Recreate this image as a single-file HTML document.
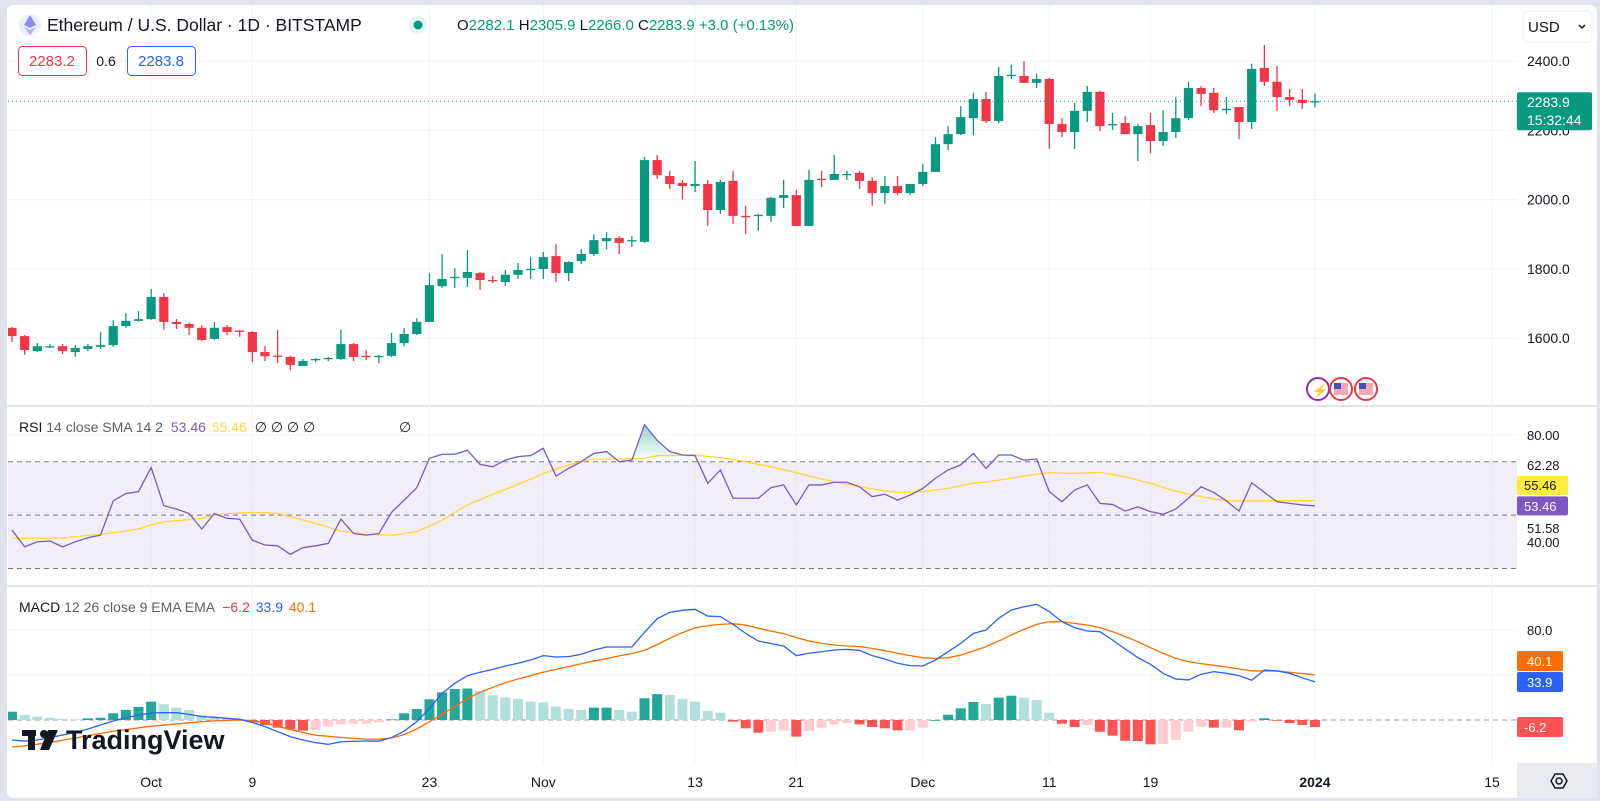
<!DOCTYPE html>
<html><head><meta charset="utf-8"><style>
html,body{margin:0;padding:0;background:#e0e3eb;}
body{width:1600px;height:801px;overflow:hidden;position:relative;font-family:"Liberation Sans",sans-serif;}
#card{position:absolute;left:7px;top:5px;width:1590px;height:793px;background:#fff;border-radius:6px;overflow:hidden;}
svg{position:absolute;left:0;top:0;}
text{font-family:"Liberation Sans",sans-serif;}
</style></head><body>
<div id="card"></div>
<svg id="chart" width="1600" height="801" viewBox="0 0 1600 801"></svg>
<script>
// ---------- DATA ----------
const opens=[1630,1606,1563,1575,1577,1560,1569,1575,1580,1635,1650,1655,1719,1647,1641,1630,1598,1632,1622,1618,1560,1550,1546,1520,1537,1540,1540,1583,1549,1546,1549,1586,1612,1647,1750,1774,1774,1788,1768,1762,1783,1797,1800,1837,1788,1823,1843,1880,1889,1880,1878,2114,2068,2048,2039,2045,1970,2054,1953,1953,1953,2005,2013,1924,2060,2057,2071,2077,2054,2019,2039,2019,2045,2080,2160,2189,2235,2290,2227,2357,2357,2337,2348,2218,2195,2256,2311,2215,2221,2189,2215,2169,2195,2235,2322,2308,2258,2267,2224,2380,2340,2296,2288,2282.1];
const highs=[1632,1609,1586,1583,1583,1580,1583,1618,1652,1673,1678,1742,1730,1655,1645,1638,1647,1638,1624,1620,1577,1624,1549,1540,1543,1546,1624,1586,1566,1552,1615,1629,1658,1788,1843,1802,1854,1791,1780,1797,1817,1834,1849,1872,1822,1857,1900,1906,1895,1895,2123,2129,2083,2057,2111,2057,2057,2083,1982,1959,2008,2057,2028,2086,2083,2129,2083,2083,2065,2068,2068,2045,2103,2180,2212,2270,2308,2311,2383,2389,2400,2363,2351,2235,2279,2328,2314,2250,2241,2218,2250,2258,2296,2340,2328,2322,2296,2267,2392,2446,2386,2319,2319,2305.9];
const lows=[1589,1552,1560,1572,1554,1546,1563,1569,1575,1630,1648,1653,1624,1627,1609,1592,1595,1609,1604,1531,1534,1528,1508,1520,1531,1534,1537,1534,1537,1528,1546,1577,1609,1647,1745,1745,1748,1739,1759,1751,1771,1771,1771,1762,1765,1814,1837,1857,1843,1863,1875,2060,2031,2000,2022,1924,1959,1930,1901,1910,1936,1976,1924,1924,2036,2057,2057,2031,1982,1988,2013,2013,2039,2080,2143,2186,2186,2221,2221,2348,2337,2322,2146,2180,2146,2224,2198,2201,2189,2111,2134,2155,2178,2230,2270,2250,2247,2174,2204,2328,2256,2270,2262,2266];
const closes=[1606,1566,1577,1577,1563,1572,1577,1580,1635,1650,1655,1719,1647,1641,1630,1595,1630,1618,1620,1560,1548,1548,1523,1534,1540,1543,1583,1546,1546,1549,1586,1612,1647,1753,1771,1777,1791,1768,1765,1783,1797,1800,1834,1788,1820,1843,1883,1889,1875,1883,2114,2071,2045,2039,2045,1970,2051,1953,1950,1956,2005,2013,1924,2057,2057,2074,2074,2054,2019,2039,2019,2045,2080,2160,2189,2238,2290,2227,2357,2360,2337,2348,2218,2195,2256,2311,2212,2218,2189,2212,2169,2195,2235,2322,2305,2258,2262,2224,2377,2340,2296,2288,2279,2283.9];
const rsiValues=[44.4,38.1,40,40.3,38.1,40,41.5,42.5,55.3,58.1,58.8,67.8,53.5,52.3,50.6,44.8,50.6,48.8,48.5,40.6,38.8,38.5,35.3,37.8,38.5,39.4,48.5,43.1,42.5,43.1,51,55.6,60.3,71.3,72.8,72.8,74.3,69,68.1,70.6,71.9,72.3,75,64.6,67.5,70,73.1,73.8,70,70.6,83.8,78,73.8,72.5,72.3,61.9,66.9,56.3,56.3,56.3,60.3,61.3,53.8,61.3,61.3,62.3,62.3,60.6,56.9,57.8,55.6,57.5,60,63.8,66.9,68.8,73.1,67.5,72.5,72.5,70.6,71,58.8,55,59.4,61.3,54.4,54,51.5,53.1,51.3,50.3,52.3,56.3,60.6,58.5,55.3,51.5,62.1,58.5,55,54.4,53.8,53.46];
const rsiSma=[41.3,41.3,41.4,41.4,41.5,41.9,42.4,42.8,43.4,44,44.8,46.3,47.5,47.9,48.3,48.8,49.9,50.6,50.8,51,50.9,50.6,49.4,48.1,46.9,45.5,44,43.4,42.8,42.6,42.5,43.1,43.8,45.9,48.1,51,53.8,55.8,57.8,59.6,61.5,63.5,65.6,67.2,68.8,70,71,71,71,71.1,71.3,72.3,72.3,72.4,72.5,72,71.5,70.8,70,69,68.1,67,65.9,64.7,63.5,62.5,61.5,60.6,59.8,59.1,58.5,58.6,58.8,59.4,60,61,61.9,62.5,63.1,63.8,64.6,65.3,65.9,65.7,65.6,65.8,66,65.2,64.4,63.1,61.9,60.4,59,57.9,56.9,56.1,55.4,55.3,55.3,55.3,55.4,55.4,55.4,55.46];
const macdLine=[-17.8,-18.7,-17.8,-15.7,-13.3,-11,-8,-4.4,-0.9,2,4.4,6.2,6.5,6.5,5,3,2.4,1.5,0.6,-2.1,-5.9,-10.4,-14.8,-17.8,-20.1,-21.6,-19.3,-19,-18.7,-18.7,-15.7,-9.8,-1.5,10.4,23.7,32.6,39.4,42.4,45,48,50.4,53.3,57.2,56,56.3,58.4,62.2,64.9,64.9,64.9,78,90,95.7,97.5,98.4,92.4,91.9,85,77,70.2,67.9,65.8,57.2,59.3,60.7,62.2,62.8,61.9,57.2,54.2,50.4,48.3,48,53.3,60.7,68.1,77,80,90.4,97.8,100.7,102.8,96.3,87.4,82.1,79.1,78.5,71.1,63.1,55.4,49.5,41.5,36.4,35.6,40.6,43,41.5,39.4,35.3,44.4,43.6,41.5,37.5,33.9];
const signalLine=[-24,-23,-21.5,-20,-18,-16,-14,-12,-10,-8.5,-7,-5.5,-4.5,-3.5,-2.5,-1.5,-0.8,-0.3,0,-0.5,-2.5,-5.5,-8.5,-11,-13.5,-14.5,-15.5,-16.3,-17,-17,-16,-13,-8,-1.5,5,12,19,24.6,29,33,36.5,39.5,42.5,45,47.5,50,52.5,54.5,57,59,62,67,72.6,77.6,82,83.9,85,85.6,84.4,81.5,79.1,76.7,73.2,70.2,68.1,66.7,65.8,65.2,63.7,61.6,59.3,57.2,55.4,54.8,55.4,57.8,61.3,65.2,70.2,75.6,80.6,85,87.4,87.4,85.9,84.4,82.1,78.5,74.1,69.6,64.3,59.3,54.8,51.9,50.1,48.6,47.1,45.3,43.6,43.6,43.6,42.4,41.3,40.1];
const histValues=[7.4,4.4,3,2,1,0.6,1.5,2,6,9,11.6,16.3,14,11,9,4.4,3,2,0.6,-2,-4.4,-6.8,-8.3,-9.5,-8.9,-5.9,-3.9,-3.3,-3.3,-2.1,0.6,6,9.8,18.4,24.6,27.6,28,25.8,22,20,18.7,16.3,15.7,11.9,9.8,9,11,11,9,7.4,19.3,23,22.2,18.7,16.3,8,6.5,-1.5,-7.4,-11.3,-10.4,-9.5,-14.8,-9.8,-6.8,-3.9,-2.7,-3.9,-6.2,-7.4,-9.2,-9.2,-6.8,0,4.7,10.4,16,14.2,19.9,21.6,19.9,17.8,6.5,-3.3,-6.2,-4.4,-10.4,-13.9,-18.4,-18.7,-21.6,-21.3,-17.8,-10.4,-5.9,-6.8,-6.8,-9.2,-1.5,1.5,-0.6,-2.7,-4.4,-6.2];
const priceTicks=[2400,2200,2000,1800,1600];
const rsiTicks=[80,60,40];
const macdTicks=[80,40];
const timeLabels=['Oct','9','23','Nov','13','21','Dec','11','19','2024','15'];
const timeLabelIdx=[11,19,33,42,54,62,72,82,90,103,117];
const lastTime='15:32:44';

// ---------- SCALES ----------
const X0=12, STEP=12.65, PLOT_L=8, PLOT_R=1517;
function xS(i){return X0+i*STEP;}
function yP(p){return 61+(2400-p)/2.886;}
function yR(v){return 461.7+(70-v)*2.67;}
function yM(v){return 720-v*1.125;}

const NS='http://www.w3.org/2000/svg';
const svg=document.getElementById('chart');
function mk(tag,attrs,parent){const e=document.createElementNS(NS,tag);for(const k in attrs)e.setAttribute(k,attrs[k]);(parent||svg).appendChild(e);return e;}
function txt(s,attrs,parent){const e=mk('text',attrs,parent);e.textContent=s;return e;}

const defs=mk('defs',{});
const cp=mk('clipPath',{id:'cpPrice'},defs);mk('rect',{x:PLOT_L,y:5,width:PLOT_R-PLOT_L,height:400},cp);
const cr=mk('clipPath',{id:'cpRsi'},defs);mk('rect',{x:PLOT_L,y:407,width:PLOT_R-PLOT_L,height:177},cr);
const cm=mk('clipPath',{id:'cpMacd'},defs);mk('rect',{x:PLOT_L,y:587,width:PLOT_R-PLOT_L,height:175},cm);
const cob=mk('clipPath',{id:'cpOb'},defs);mk('rect',{x:PLOT_L,y:407,width:PLOT_R-PLOT_L,height:yR(70)-407},cob);
const gr=mk('linearGradient',{id:'obGrad',x1:0,y1:yR(85),x2:0,y2:yR(70),gradientUnits:'userSpaceOnUse'},defs);
mk('stop',{offset:'0','stop-color':'#089981','stop-opacity':'0.45'},gr);
mk('stop',{offset:'1','stop-color':'#089981','stop-opacity':'0'},gr);

let el;
el=mk('rect',{x:7,y:405,width:1590,height:2,fill:'#e0e3eb'});


el=mk('rect',{x:7,y:585,width:1590,height:2,fill:'#e0e3eb'});



const gridG=mk('g',{});


timeLabelIdx.forEach((d,k)=>{
  const x=xS(d);
  el=mk('line',{x1:x,x2:x,y1:5,y2:763,stroke:'#f0f3fa','stroke-width':1},gridG);
  
  
});
priceTicks.forEach(p=>{
  const y=yP(p);
  el=mk('line',{x1:PLOT_L,x2:PLOT_R,y1:y,y2:y,stroke:'#f0f3fa'});
  
  
  el=txt(p.toFixed(1),{x:1527,y:y+5,'font-size':14,fill:'#131722'});
  
  
});

const cg=mk('g',{'clip-path':'url(#cpPrice)'});


for(let i=0;i<closes.length;i++){
  const up=closes[i]>=opens[i];
  const col=up?'#089981':'#f23645';
  const x=xS(i);
  const g=mk('g',{},cg);
  
  
  mk('line',{x1:x,x2:x,y1:yP(highs[i]),y2:yP(lows[i]),stroke:col,'stroke-width':1.3},g);
  const yt=yP(Math.max(opens[i],closes[i])), yb=yP(Math.min(opens[i],closes[i]));
  mk('rect',{x:x-4.6,y:yt,width:9.2,height:Math.max(1.3,yb-yt),fill:col},g);
}
const lastY=yP(closes[closes.length-1]);
el=mk('line',{x1:PLOT_L,x2:PLOT_R,y1:lastY,y2:lastY,stroke:'#089981','stroke-width':1,'stroke-dasharray':'1,3'});


const lpg=mk('g',{});


mk('rect',{x:1517,y:lastY-9,width:75,height:38,rx:2,fill:'#089981'},lpg);
txt(closes[closes.length-1].toFixed(1),{x:1527,y:lastY+6,'font-size':14,fill:'#fff'},lpg);
txt(lastTime,{x:1527,y:lastY+24,'font-size':14,fill:'#fff'},lpg);

const evg=mk('g',{});


mk('circle',{cx:1318,cy:389,r:11,fill:'#fff',stroke:'#9c27b0','stroke-width':2},evg);
txt('⚡',{x:1312,y:395,'font-size':13,fill:'#e91e63'},evg);
[1341,1366].forEach(cx=>{
  mk('circle',{cx:cx,cy:389,r:11,fill:'#fff',stroke:'#f23645','stroke-width':2},evg);
  mk('rect',{x:cx-7,y:383,width:14,height:12,fill:'#f7a8b0'},evg);
  mk('rect',{x:cx-7,y:383,width:7,height:6,fill:'#3f51b5'},evg);
});

// ---------- RSI ----------
const rg=mk('g',{'clip-path':'url(#cpRsi)'});


el=mk('rect',{x:PLOT_L,y:yR(70),width:PLOT_R-PLOT_L,height:yR(30)-yR(70),fill:'rgba(126,87,194,0.1)'},rg);


rsiTicks.forEach(v=>{mk('line',{x1:PLOT_L,x2:PLOT_R,y1:yR(v),y2:yR(v),stroke:'#f0f3fa'},rg);});
[70,50,30].forEach(v=>{
  el=mk('line',{x1:PLOT_L,x2:PLOT_R,y1:yR(v),y2:yR(v),stroke:'#787b86','stroke-width':1,'stroke-dasharray':'5,4'},rg);
  
  
});
let rp=rsiValues.map((v,i)=>xS(i)+','+yR(v)).join(' ');
el=mk('polygon',{points:xS(0)+','+yR(70)+' '+rp+' '+xS(rsiValues.length-1)+','+yR(70),fill:'url(#obGrad)','clip-path':'url(#cpOb)'},rg);


el=mk('polyline',{points:rsiSma.map((v,i)=>xS(i)+','+yR(v)).join(' '),fill:'none',stroke:'#fdd835','stroke-width':1.3},rg);


el=mk('polyline',{points:rp,fill:'none',stroke:'#7e57c2','stroke-width':1.3},rg);


el=txt('80.00',{x:1527,y:yR(80)+5,'font-size':13,fill:'#131722'});


el=txt('62.28',{x:1527,y:470,'font-size':13,fill:'#131722'});


el=txt('51.58',{x:1527,y:533,'font-size':13,fill:'#131722'});


el=txt('40.00',{x:1527,y:yR(40)+5,'font-size':13,fill:'#131722'});


const smaLast=rsiSma[rsiSma.length-1], rsiLast=rsiValues[rsiValues.length-1];
let bg=mk('g',{});


mk('rect',{x:1517,y:476,width:51,height:19,rx:2,fill:'#ffeb3b'},bg);
txt(smaLast.toFixed(2),{x:1524,y:490,'font-size':13,fill:'#131722'},bg);
bg=mk('g',{});


mk('rect',{x:1517,y:yR(rsiLast)-9.5,width:51,height:19,rx:2,fill:'#7e57c2'},bg);
txt(rsiLast.toFixed(2),{x:1524,y:yR(rsiLast)+5,'font-size':13,fill:'#fff'},bg);

// ---------- MACD ----------
const mg=mk('g',{'clip-path':'url(#cpMacd)'});


macdTicks.forEach(v=>{mk('line',{x1:PLOT_L,x2:PLOT_R,y1:yM(v),y2:yM(v),stroke:'#f0f3fa'},mg);});
el=mk('line',{x1:PLOT_L,x2:PLOT_R,y1:yM(0),y2:yM(0),stroke:'#9598a1','stroke-dasharray':'5,4'},mg);


for(let i=0;i<histValues.length;i++){
  const v=histValues[i], pv=i>0?histValues[i-1]:v;
  let col;
  if(v>=0) col=(v>=pv)?'#26a69a':'#b2dfdb'; else col=(v<pv)?'#ff5252':'#ffcdd2';
  const y0=yM(0), y1=yM(v);
  el=mk('rect',{x:xS(i)-5,y:Math.min(y0,y1),width:10,height:Math.max(0.8,Math.abs(y1-y0)),fill:col},mg);
  
  
}
el=mk('polyline',{points:signalLine.map((v,i)=>xS(i)+','+yM(v)).join(' '),fill:'none',stroke:'#ff6d00','stroke-width':1.3},mg);


el=mk('polyline',{points:macdLine.map((v,i)=>xS(i)+','+yM(v)).join(' '),fill:'none',stroke:'#2962ff','stroke-width':1.3},mg);


el=txt('80.0',{x:1527,y:yM(80)+5,'font-size':13,fill:'#131722'});


const sLast=signalLine[signalLine.length-1], mLast=macdLine[macdLine.length-1], hLast=histValues[histValues.length-1];
bg=mk('g',{});


mk('rect',{x:1517,y:651,width:46,height:20,rx:2,fill:'#ff6d00'},bg);
txt(sLast.toFixed(1),{x:1527,y:666,'font-size':13,fill:'#fff'},bg);
bg=mk('g',{});


mk('rect',{x:1517,y:672,width:46,height:20,rx:2,fill:'#2962ff'},bg);
txt(mLast.toFixed(1),{x:1527,y:687,'font-size':13,fill:'#fff'},bg);
bg=mk('g',{});


mk('rect',{x:1517,y:yM(hLast)-10,width:46,height:20,rx:2,fill:'#ff5252'},bg);
txt(hLast.toFixed(1),{x:1524,y:yM(hLast)+5,'font-size':13,fill:'#fff'},bg);

// ---------- TIME AXIS ----------
timeLabels.forEach((s,k)=>{
  el=txt(s,{x:xS(timeLabelIdx[k]),y:787,'font-size':14,fill:'#131722','text-anchor':'middle','font-weight':(s==='2024'?'bold':'normal')});
  
  
});
</script>

<svg width="1600" height="801" style="pointer-events:none">
  <g>
    <circle cx="30" cy="25" r="11" fill="#eceffd"/>
    <polygon points="30,15 36,25 30,28 24,25" fill="#8c8cf0"/>
    <polygon points="30,30 36,27 30,35 24,27" fill="#b0b3f5"/>
    <text x="47" y="31" font-size="17.5" fill="#131722">Ethereum / U.S. Dollar · 1D · BITSTAMP</text>
    <circle cx="418" cy="25" r="9" fill="#e6f5f2"/>
    <circle cx="418" cy="25" r="4.5" fill="#089981"/>
    <text x="457" y="30" font-size="15" fill="#089981"><tspan fill="#131722">O</tspan>2282.1 <tspan fill="#131722">H</tspan>2305.9 <tspan fill="#131722">L</tspan>2266.0 <tspan fill="#131722">C</tspan>2283.9 +3.0 (+0.13%)</text>
  </g>
  <g>
    <rect x="18.5" y="46.5" width="68" height="29" rx="4" fill="#fff" stroke="#f23645"/>
    <text x="52" y="66" font-size="15" fill="#f23645" text-anchor="middle">2283.2</text>
    <text x="106" y="66" font-size="14" fill="#131722" text-anchor="middle">0.6</text>
    <rect x="127.5" y="46.5" width="68" height="29" rx="4" fill="#fff" stroke="#2962ff"/>
    <text x="161" y="66" font-size="15" fill="#2962ff" text-anchor="middle">2283.8</text>
  </g>
  <g>
    <rect x="1523" y="11" width="69" height="31" rx="4" fill="#fff" stroke="#eceef2"/>
    <text x="1528" y="32" font-size="15" fill="#131722">USD</text>
    <polyline points="1579,25 1582,28 1585,25" fill="none" stroke="#131722" stroke-width="1.5"/>
  </g>
  <g>
    <text x="19" y="432" font-size="14" fill="#131722">RSI <tspan fill="#5d606b">14 close SMA 14 2</tspan> <tspan fill="#7e57c2" dx="4">53.46</tspan> <tspan fill="#fdd835" dx="2">55.46</tspan> <tspan dx="4">∅ ∅ ∅ ∅</tspan></text>
    <text x="399" y="432" font-size="14" fill="#131722">∅</text>
  </g>
  <g>
    <text x="19" y="612" font-size="14" fill="#131722">MACD <tspan fill="#5d606b">12 26 close 9 EMA EMA</tspan> <tspan fill="#f23645" dx="4">−6.2</tspan> <tspan fill="#2962ff" dx="2">33.9</tspan> <tspan fill="#ff6d00" dx="2">40.1</tspan></text>
  </g>
  <g>
    <rect x="22" y="730" width="14" height="6" fill="#131722"/>
    <rect x="28" y="730" width="7" height="20" fill="#131722"/>
    <circle cx="44" cy="734" r="4" fill="#131722"/>
    <polygon points="48,730 58,730 49,750 40,750" fill="#131722"/>
    <text x="66" y="749" font-size="27" font-weight="bold" fill="#131722">TradingView</text>
  </g>
  <g>
    <rect x="1517" y="763" width="80" height="35" fill="#e9ebf0"/>
    <polygon points="1551,781 1555,774 1563,774 1567,781 1563,788 1555,788" fill="none" stroke="#131722" stroke-width="1.5"/>
    <circle cx="1559" cy="781" r="3" fill="none" stroke="#131722" stroke-width="1.5"/>
  </g>
</svg>
</body></html>
